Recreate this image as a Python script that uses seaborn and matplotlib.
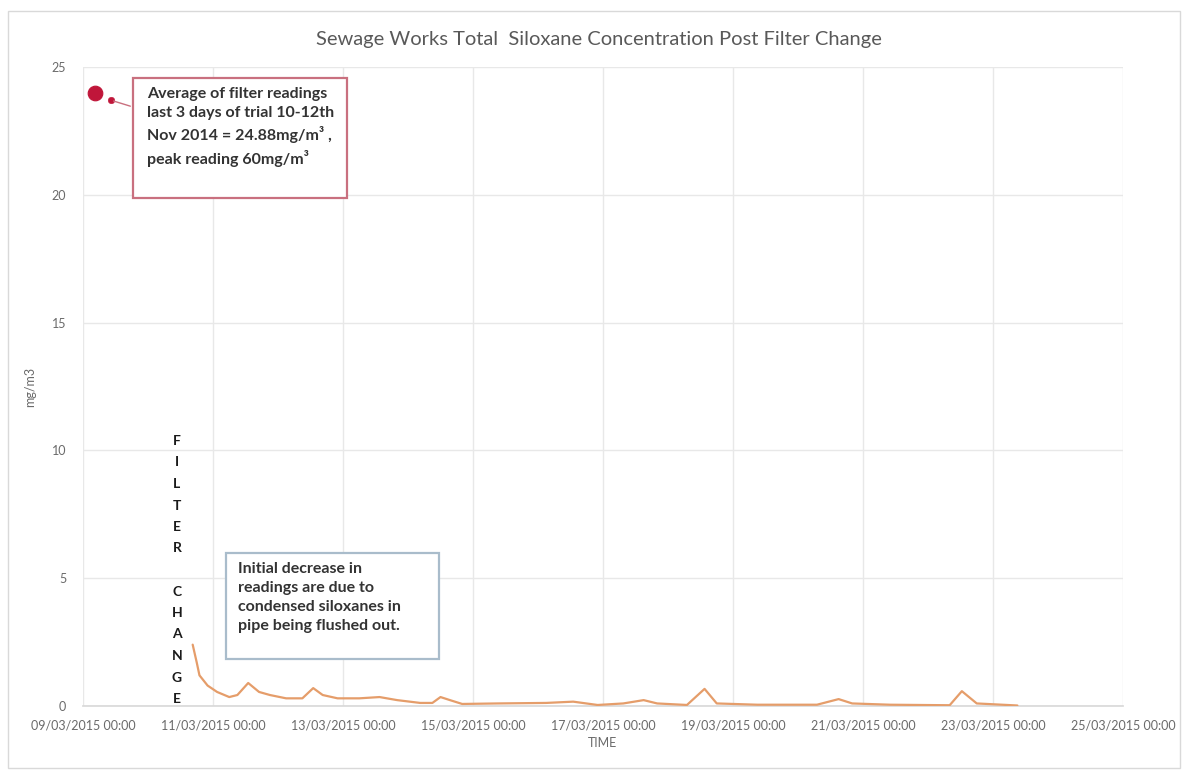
import matplotlib
matplotlib.use("Agg")
import matplotlib.pyplot as plt
import matplotlib.dates as mdates
from matplotlib.patches import Rectangle
import pandas as pd
import seaborn as sns

# Post-change siloxane readings (mg/m3)
timestamps = [
    "2015-03-10 16:30", "2015-03-10 18:00", "2015-03-10 19:00", "2015-03-10 22:00",
    "2015-03-11 01:30", "2015-03-11 06:00", "2015-03-11 09:00", "2015-03-11 13:00",
    "2015-03-11 17:00", "2015-03-11 21:00", "2015-03-12 03:00", "2015-03-12 09:00",
    "2015-03-12 13:00", "2015-03-12 16:30", "2015-03-12 22:00", "2015-03-13 06:00",
    "2015-03-13 13:30", "2015-03-13 20:00", "2015-03-14 04:30", "2015-03-14 09:00",
    "2015-03-14 12:00", "2015-03-14 15:30", "2015-03-14 20:00", "2015-03-15 09:00",
    "2015-03-16 03:00", "2015-03-16 13:00", "2015-03-16 22:00", "2015-03-17 07:30",
    "2015-03-17 15:00", "2015-03-17 20:00", "2015-03-18 07:00", "2015-03-18 13:30",
    "2015-03-18 18:00", "2015-03-19 09:00", "2015-03-20 07:00", "2015-03-20 15:00",
    "2015-03-20 20:00", "2015-03-21 10:00", "2015-03-22 08:00", "2015-03-22 12:30",
    "2015-03-22 18:00", "2015-03-23 09:00",
]
siloxane = [
    2.4, 1.7, 1.2, 0.8,
    0.55, 0.35, 0.43, 0.9,
    0.55, 0.43, 0.3, 0.3,
    0.7, 0.43, 0.3, 0.3,
    0.35, 0.23, 0.12, 0.12,
    0.35, 0.23, 0.08, 0.1,
    0.12, 0.17, 0.04, 0.1,
    0.23, 0.1, 0.04, 0.67,
    0.1, 0.05, 0.05, 0.27,
    0.1, 0.05, 0.03, 0.58,
    0.1, 0.02,
]

# Pre-change reference reading and the callout anchor next to it
ref_time = ["2015-03-09 04:30"]
ref_value = [24.0]
anchor_time = ["2015-03-09 10:20"]
anchor_value = [23.7]

x_ticks = pd.date_range("2015-03-09", "2015-03-25", freq="2D")
y_ticks = [0, 5, 10, 15, 20, 25]

title = "Sewage Works Total  Siloxane Concentration Post Filter Change"
note_filter = ("Average of filter readings\n"
               "last 3 days of trial 10-12th\n"
               "Nov 2014 = 24.88mg/m\u00b3 ,\n"
               "peak reading 60mg/m\u00b3")
note_flush = ("Initial decrease in\n"
              "readings are due to\n"
              "condensed siloxanes in\n"
              "pipe being flushed out.")
marker_word = "FILTER CHANGE"

readings = pd.DataFrame({"time": pd.to_datetime(timestamps), "value": siloxane})
reference = pd.DataFrame({"time": pd.to_datetime(ref_time), "value": ref_value})
anchor = pd.DataFrame({"time": pd.to_datetime(anchor_time), "value": anchor_value})

sns.set_theme(style="white")
plt.rcParams["font.family"] = ["Lato", "DejaVu Sans"]

W, H = 1188, 775
fig = plt.figure(figsize=(W / 100, H / 100), dpi=100)
fig.patch.set_facecolor("white")


def fx(px):
    return px / W


def fy(py):
    return 1 - py / H


# outer chart frame
fig.add_artist(Rectangle((fx(8), fy(768)), fx(1180) - fx(8), fy(11) - fy(768),
                         transform=fig.transFigure, fill=False,
                         edgecolor="#d9d9d9", linewidth=1.0))

ax = fig.add_axes([fx(83), fy(706), fx(1123) - fx(83), fy(67) - fy(706)])
ax.set_facecolor("white")

sns.lineplot(data=readings, x="time", y="value", ax=ax, color="#e59d6a",
             linewidth=1.6, zorder=3)
sns.scatterplot(data=reference, x="time", y="value", ax=ax, color="#c0163a",
                s=110, edgecolor="#c0163a", zorder=4)
sns.scatterplot(data=anchor, x="time", y="value", ax=ax, color="#c0163a",
                s=22, edgecolor="#c0163a", zorder=4)

ax.set_xlim(x_ticks[0], x_ticks[-1])
ax.set_ylim(0, 25)
ax.set_xticks(x_ticks)
ax.set_yticks(y_ticks)
ax.xaxis.set_major_formatter(mdates.DateFormatter("%d/%m/%Y %H:%M"))
ax.tick_params(axis="both", labelsize=9, colors="#6a6a6a", length=0)
ax.tick_params(axis="x", pad=10)
ax.tick_params(axis="y", pad=12)
ax.grid(True, color="#e8e8e8", linewidth=1.0)
for side in ["top", "right", "left"]:
    ax.spines[side].set_visible(False)
ax.spines["bottom"].set_color("#d9d9d9")
ax.set_xlabel("TIME", fontsize=9, color="#6a6a6a", labelpad=4)
ax.set_ylabel("mg/m3", fontsize=9, color="#6a6a6a", labelpad=11)

fig.text(fx(599), fy(40), title, ha="center", va="center",
         fontsize=14.5, color="#595959")

# callout on the pre-change reading
box1 = Rectangle((fx(133), fy(198)), fx(347) - fx(133), fy(78) - fy(198),
                 transform=fig.transFigure, facecolor="white",
                 edgecolor="#c9707f", linewidth=1.6, zorder=5)
fig.add_artist(box1)
fig.text(fx(147), fy(87), note_filter, ha="left", va="top", fontsize=11.5,
         fontweight="bold", color="#333333", linespacing=1.45, zorder=6)
ax.annotate("", xy=(anchor["time"][0], anchor["value"][0]),
            xytext=(fx(133), fy(107)), textcoords="figure fraction",
            arrowprops=dict(arrowstyle="-", color="#c9707f", lw=1.0), zorder=4)

# callout on the flush-out period
box2 = Rectangle((fx(226), fy(659)), fx(439) - fx(226), fy(553) - fy(659),
                 transform=fig.transFigure, facecolor="white",
                 edgecolor="#a9bccb", linewidth=1.6, zorder=5)
fig.add_artist(box2)
fig.text(fx(238), fy(562), note_flush, ha="left", va="top", fontsize=11.5,
         fontweight="bold", color="#333333", linespacing=1.45, zorder=6)

# vertical "FILTER CHANGE" marker
for i, ch in enumerate(marker_word):
    fig.text(fx(177), fy(441 + i * 21.5), ch, ha="center", va="center",
             fontsize=10, fontweight="bold", color="#1a1a1a")

fig.savefig("out.png", dpi=100, facecolor="white")
